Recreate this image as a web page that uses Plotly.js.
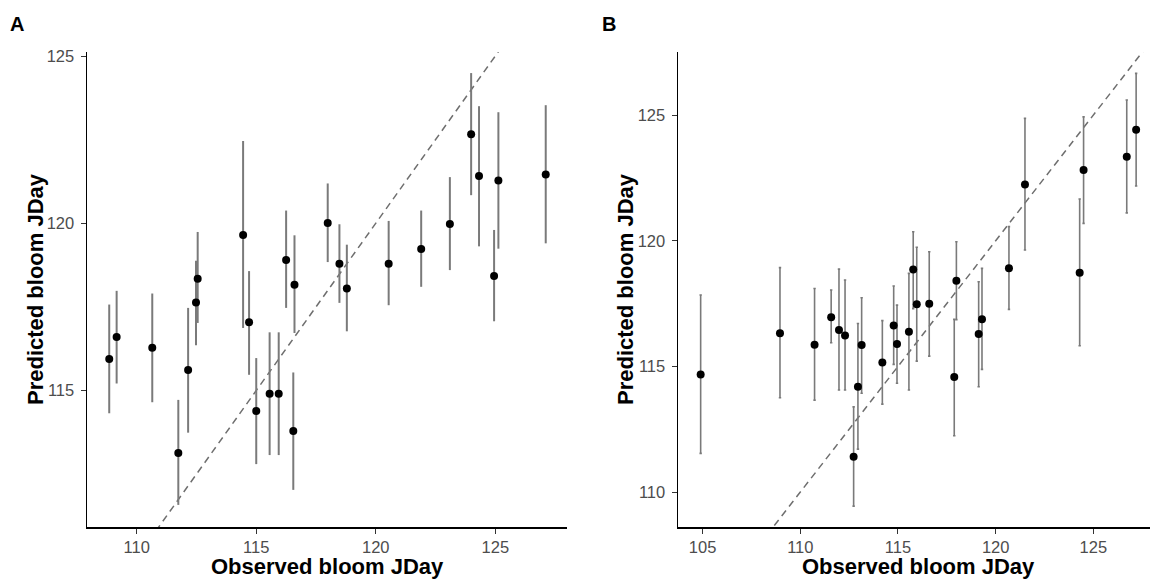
<!DOCTYPE html>
<html>
<head>
<meta charset="utf-8">
<script src="https://cdn.plot.ly/plotly-3.0.1.min.js"></script>
<style>html,body{margin:0;padding:0;background:#fff;}#chart{width:1150px;height:579px;}</style>
</head>
<body>
<div id="chart"></div>
<script>
// Panel A data
const obsA  = [108.85,109.16,110.65,111.74,112.15,112.48,112.55,114.45,114.70,115.00,115.56,115.94,116.25,116.55,116.60,117.99,118.48,118.79,120.54,121.90,123.10,123.99,124.32,124.95,125.13,127.11];
const predA = [115.94,116.60,116.28,113.13,115.61,117.63,118.34,119.65,117.04,114.39,114.90,114.90,118.90,113.79,118.16,120.01,118.79,118.05,118.79,119.23,119.98,122.66,121.41,118.42,121.28,121.46];
const loA   = [114.32,115.21,114.65,111.58,113.74,116.35,117.02,116.87,115.47,112.80,113.07,113.07,117.47,112.03,116.72,118.84,117.62,116.77,117.55,118.10,118.60,120.84,119.31,117.07,119.24,119.40];
const hiA   = [117.57,117.98,117.90,114.72,117.47,118.88,119.74,122.46,118.57,115.97,116.74,116.74,120.38,115.54,119.64,121.19,119.97,119.36,120.07,120.38,121.38,124.49,123.50,119.80,123.32,123.53];

// Panel B data
const obsB  = [104.90,108.96,110.73,111.58,111.98,112.29,112.73,112.95,113.14,114.20,114.78,114.95,115.56,115.78,115.96,116.60,117.88,117.99,119.13,119.30,120.68,121.50,124.30,124.50,126.71,127.19];
const predB = [114.68,116.32,115.86,116.96,116.45,116.23,111.41,114.19,115.85,115.16,116.63,115.89,116.38,118.86,117.47,117.49,114.58,118.41,116.29,116.88,118.91,122.24,118.73,122.81,123.34,124.42];
const loB   = [111.54,113.75,113.66,115.94,114.06,114.06,109.44,111.71,113.93,113.50,115.08,114.33,114.06,117.30,115.21,115.41,112.24,116.86,114.19,114.88,117.27,119.63,115.82,120.69,121.11,122.18];
const hiB   = [117.84,118.93,118.10,118.04,118.87,118.44,113.39,116.71,117.73,116.82,118.20,117.44,118.70,120.36,119.74,119.56,116.87,119.96,118.37,118.90,120.56,124.87,121.66,124.93,125.60,126.66];

// 1:1 reference line endpoints
const oneToOne = [100, 130];

const panelLabels = ["A", "B"];
const xTitle = "Observed bloom JDay";
const yTitle = "Predicted bloom JDay";
const xTicksA = [110, 115, 120, 125];
const yTicksA = [115, 120, 125];
const xTicksB = [105, 110, 115, 120, 125];
const yTicksB = [110, 115, 120, 125];

const FONT = "Liberation Sans, Arial, sans-serif";
const W = 1150, H = 579;

function diff(a, b) { return a.map((v, i) => v - b[i]); }

const dashLine = {color: '#6e6e6e', width: 1.5, dash: '7px,5px'};

const traces = [
  {x: oneToOne, y: oneToOne, xaxis: 'x', yaxis: 'y', mode: 'lines', line: dashLine, hoverinfo: 'skip'},
  {x: obsA, y: predA, xaxis: 'x', yaxis: 'y', mode: 'markers', type: 'scatter',
   marker: {color: '#000', size: 8},
   error_y: {type: 'data', symmetric: false, array: diff(hiA, predA), arrayminus: diff(predA, loA),
             color: '#7a7a7a', thickness: 2, width: 0}},
  {x: oneToOne, y: oneToOne, xaxis: 'x2', yaxis: 'y2', mode: 'lines', line: dashLine, hoverinfo: 'skip'},
  {x: obsB, y: predB, xaxis: 'x2', yaxis: 'y2', mode: 'markers', type: 'scatter',
   marker: {color: '#000', size: 8},
   error_y: {type: 'data', symmetric: false, array: diff(hiB, predB), arrayminus: diff(predB, loB),
             color: '#7a7a7a', thickness: 1.6, width: 1.2}}
];

const axBase = {
  showgrid: false, zeroline: false, showline: true, linecolor: '#000', linewidth: 1.5,
  ticks: 'outside', ticklen: 5, tickwidth: 1, tickcolor: '#333',
  tickfont: {family: FONT, size: 16.5, color: '#4d4d4d'}, fixedrange: true
};
const xBase = Object.assign({}, axBase, {ticklabelstandoff: 0});
const yBase = Object.assign({}, axBase, {ticklabelstandoff: 3});

function ann(text, x, y, size, angle) {
  return {text: '<b>' + text + '</b>', xref: 'paper', yref: 'paper', x: x / W, y: 1 - y / H,
          textangle: angle || 0, showarrow: false, xanchor: 'center', yanchor: 'middle', borderpad: 0,
          font: {family: FONT, size: size, color: '#000'}};
}

const layout = {
  width: W, height: H, paper_bgcolor: '#fff', plot_bgcolor: '#fff',
  margin: {l: 0, r: 0, t: 0, b: 0}, showlegend: false,
  font: {family: FONT},
  xaxis: Object.assign({}, xBase, {domain: [87/W, 567/W], range: [107.92, 128.0], tickvals: xTicksA, anchor: 'y'}),
  yaxis: Object.assign({}, yBase, {domain: [52/H, 527/H], range: [110.92, 125.12], tickvals: yTicksA, anchor: 'x'}),
  xaxis2: Object.assign({}, xBase, {domain: [678/W, 1], range: [103.74, 127.90], tickvals: xTicksB, anchor: 'y2'}),
  yaxis2: Object.assign({}, yBase, {domain: [52/H, 527/H], range: [108.61, 127.51], tickvals: yTicksB, anchor: 'x2'}),
  annotations: [
    ann(panelLabels[0], 16.5, 24, 20),
    ann(panelLabels[1], 608.5, 24, 20),
    ann(xTitle, 327.5, 566, 22),
    ann(xTitle, 918, 566, 22),
    ann(yTitle, 35, 289, 22, -90),
    ann(yTitle, 625, 289, 22, -90)
  ]
};

Plotly.newPlot('chart', traces, layout, {displayModeBar: false, staticPlot: true});
</script>
</body>
</html>
